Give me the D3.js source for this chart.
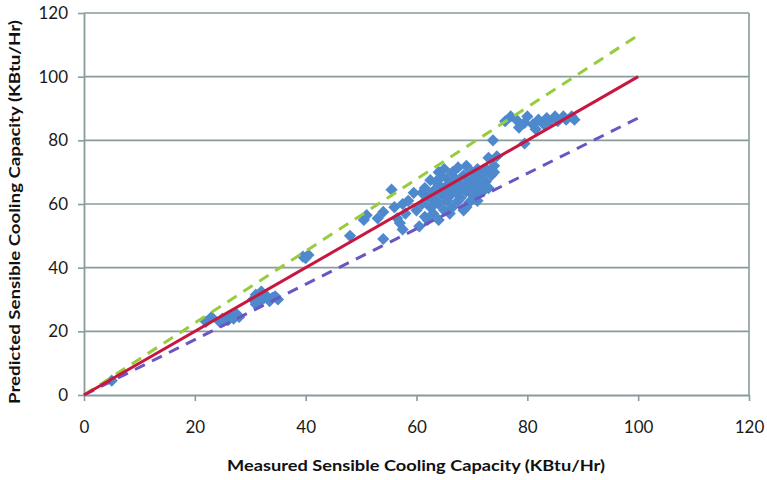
<!DOCTYPE html>
<html>
<head>
<meta charset="utf-8">
<script src="https://cdn.jsdelivr.net/npm/d3@7"></script>
<style>
	body { margin: 0; background: #fff; }
	svg { display: block; }
	.tick text { font-family: Lato, "Open Sans", sans-serif; font-size: 17px; fill: #1a1a1a; }
	.axis-title { font-family: Lato, "Open Sans", sans-serif; font-size: 16px; font-weight: bold; fill: #111; }
</style>
</head>
<body>
<svg id="chart"></svg>
<script>
// measured vs predicted sensible cooling capacity (KBtu/Hr)
var measured = [
	5, 22, 23, 24.5, 25, 26, 26.5, 27, 27.5, 28,
	30.5, 31, 31.5, 32, 32.5, 33, 33.5, 34, 34.5, 35, 31,
	39.5, 40.5, 40,
	48, 50.5, 51, 53, 54, 54, 55.5, 56.5, 57, 57.5, 57.5, 58.5, 59.5, 56, 58,
	60, 60.5, 61, 61, 61.5, 62, 62, 62.5, 62.5, 63, 63, 63.5, 64, 64, 64, 64.5,
	65, 65, 65.5, 65.5, 66, 66, 66.5, 66.5, 67, 67, 67.5, 67.5, 68, 68, 68.5, 68.5,
	69, 69, 69.5, 69.5, 70, 70, 70.5, 70.5, 71, 71, 71.5, 72, 72, 72.5, 72.5,
	73, 73, 73.5, 74, 73.8, 74.5, 66, 69, 71, 64,
	61.5, 62.5, 63.5, 64.5, 65, 66, 67, 68, 69, 70, 71, 72, 63, 65.5, 67.5, 70, 72.5, 74,
	76, 77, 78, 78.5, 79.5, 79.5, 80, 81, 81.5, 82, 83, 83.5, 84, 85, 85.5, 86.5, 87, 88.5, 88
];
var predicted = [
	4.5, 23, 24.5, 23, 24, 23.5, 25, 24, 25.5, 24.5,
	30, 31.5, 29, 32.5, 30.5, 31, 29.5, 30.5, 31, 30, 28.5,
	43.5, 44, 43,
	50, 55, 56.5, 55.5, 57.5, 49, 64.5, 55.5, 54, 52, 60, 61, 63.5, 59, 57,
	58, 53, 60, 63.5, 56, 55, 62, 67.5, 59, 64, 57, 61, 70, 66, 60, 63,
	58, 65, 68, 61, 62.5, 66.5, 59, 70, 64, 68, 61, 71.5, 66, 62, 69, 58,
	64, 72, 67, 60.5, 70, 65, 62, 68, 71, 63.5, 66, 69.5, 64, 71, 67,
	74.5, 65, 69, 72, 80, 75, 57, 59, 61, 55,
	65, 62.5, 67, 68.5, 71, 64, 66, 64.5, 66.5, 67, 69, 67.5, 59.5, 63, 63.5, 63, 65.5, 70,
	86, 87.5, 86.5, 84, 85.5, 79, 87.5, 85, 83.5, 86.5, 85, 87, 86, 87.5, 86, 87.5, 86.5, 86.5, 87.5
];

// reference lines: 1:1 and +/- 13%
var refX = [0, 100];
var perfectY = [0, 100];
var upperY = [0, 113];
var lowerY = [0, 87];

var xTicks = [0, 20, 40, 60, 80, 100, 120];
var yTicks = [0, 20, 40, 60, 80, 100, 120];

var margin = { top: 13, right: 18, bottom: 85, left: 84 };
var width = 767 - margin.left - margin.right;
var height = 480 - margin.top - margin.bottom;
var gridColor = "#8a9b9b";

var svg = d3.select("#chart")
	.attr("width", 767)
	.attr("height", 480);

var g = svg.append("g")
	.attr("transform", "translate(" + margin.left + "," + margin.top + ")");

var x = d3.scaleLinear().domain([0, 120]).range([0, width]);
var y = d3.scaleLinear().domain([0, 120]).range([height, 0]);

// horizontal grid
g.append("g")
	.selectAll("line")
	.data(yTicks.slice(1))
	.enter().append("line")
	.attr("x1", 0)
	.attr("x2", width)
	.attr("y1", function(d) { return y(d); })
	.attr("y2", function(d) { return y(d); })
	.attr("stroke", gridColor)
	.attr("stroke-width", 1.6);

// right border
g.append("line")
	.attr("x1", width).attr("x2", width)
	.attr("y1", 0).attr("y2", height)
	.attr("stroke", gridColor)
	.attr("stroke-width", 1.6);

//axis
var xAxis = g.append("g")
	.attr("transform", "translate(0," + height + ")")
	.call(d3.axisBottom(x).tickValues(xTicks).tickSize(6).tickSizeOuter(0));

var yAxis = g.append("g")
	.call(d3.axisLeft(y).tickValues(yTicks).tickSize(6).tickSizeOuter(0).tickPadding(10));

[xAxis, yAxis].forEach(function(a) {
	a.select(".domain").attr("stroke", gridColor).attr("stroke-width", 1.8);
	a.selectAll(".tick line").attr("stroke", gridColor).attr("stroke-width", 1.6);
});
xAxis.selectAll(".tick text").attr("dy", "0.35em").attr("y", 32);

// points
var pts = measured.map(function(m, i) { return [m, predicted[i]]; });

g.append("g")
	.selectAll("path")
	.data(pts)
	.enter().append("path")
	.attr("d", d3.symbol(d3.symbolDiamond2, 95))
	.attr("transform", function(d) { return "translate(" + x(d[0]) + "," + y(d[1]) + ")"; })
	.attr("fill", "#4d89cc");

// lines
var line = d3.line()
	.x(function(d) { return x(d[0]); })
	.y(function(d) { return y(d[1]); });

function refLine(ys, color, dash) {
	g.append("path")
		.datum(refX.map(function(v, i) { return [v, ys[i]]; }))
		.attr("d", line)
		.attr("fill", "none")
		.attr("stroke", color)
		.attr("stroke-width", 3)
		.attr("stroke-dasharray", dash);
}
refLine(lowerY, "#6a55c2", "11,8");
refLine(upperY, "#97cc3e", "11,8");
refLine(perfectY, "#c8173f", null);

// titles
svg.append("text")
	.attr("class", "axis-title")
	.attr("x", 416)
	.attr("y", 471)
	.attr("text-anchor", "middle")
	.attr("textLength", 378)
	.attr("lengthAdjust", "spacingAndGlyphs")
	.text("Measured Sensible Cooling Capacity (KBtu/Hr)");

svg.append("text")
	.attr("class", "axis-title")
	.attr("transform", "translate(20,212) rotate(-90)")
	.attr("text-anchor", "middle")
	.attr("textLength", 384)
	.attr("lengthAdjust", "spacingAndGlyphs")
	.text("Predicted Sensible Cooling Capacity (KBtu/Hr)");
</script>
</body>
</html>
